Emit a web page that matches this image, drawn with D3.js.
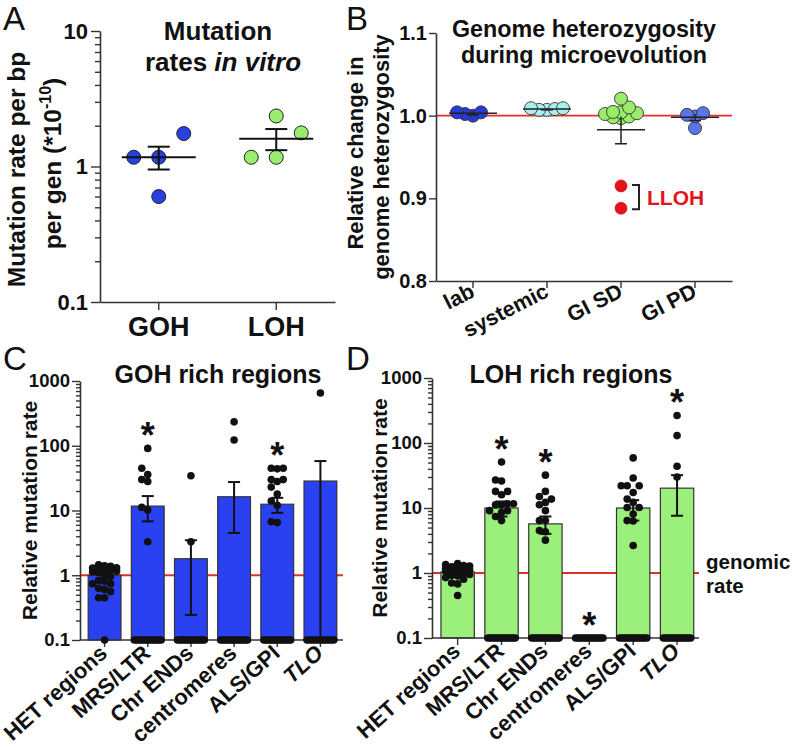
<!DOCTYPE html>
<html><head><meta charset="utf-8">
<script src="https://cdn.jsdelivr.net/npm/d3@7"></script>
<style>body{margin:0;background:#fff} svg{display:block}</style>
</head><body><svg id="c" width="796" height="750"></svg>
<script>
// ================= DATA =================
// Panel A – mutation rates in vitro (x 1e-10 per bp per generation)
const aCategories = ["GOH", "LOH"];
const aGOH = [0.6, 1.17, 1.17, 1.75];
const aLOH = [1.17, 1.17, 1.77, 2.36];
const aMean = [1.17, 1.6];
const aErrLow = [0.95, 1.32];
const aErrHigh = [1.4, 1.89];
const aTicks = [0.1, 1, 10];
const aTickLabels = ["0.1", "1", "10"];

// Panel B – relative change in genome heterozygosity
const bCategories = ["lab", "systemic", "GI SD", "GI PD"];
const bLab = [1.004, 1.000, 1.004, 1.002];
const bSystemic = [1.009, 1.007, 1.008, 1.009, 1.007];
const bGISD = [1.0205, 1.010, 1.0045, 1.003, 1.002, 0.998, 0.999, 1.004, 0.997];
const bGIPD = [1.001, 0.999, 1.003, 0.985];
const bLLOH = [0.915, 0.888];
const bMean = [1.003, 1.008, 0.983, 0.998];
const bErrLow = [1.001, 1.007, 0.966, 0.994];
const bErrHigh = [1.005, 1.009, 0.999, 1.002];
const bTicks = [0.8, 0.9, 1.0, 1.1];
const bTickLabels = ["0.8", "0.9", "1.0", "1.1"];

// Panels C & D – relative mutation rate per region type
const regionCategories = ["HET regions", "MRS/LTR", "Chr ENDs", "centromeres", "ALS/GPI", "TLO"];
const regionTicks = [0.1, 1, 10, 100, 1000];
const regionTickLabels = ["0.1", "1", "10", "100", "1000"];

// C: GOH rich regions
const cHET = [1.45, 1.4, 1.37, 1.3, 1.29, 1.25, 1.21, 1.2, 1.15, 1.12, 1.1, 1.05, 0.96, 0.83, 0.8, 0.74, 0.74, 0.63, 0.6, 0.56, 0.45, 0.45];
const cMRS = [91, 45, 36, 30, 28, 11.2, 10.2, 3.3];
const cChr = [34.5, 3.3];
const cCen = [234, 123];
const cALS = [45, 44, 45, 30, 28, 30, 23, 18, 14, 12, 6.7, 6.5];
const cTLO = [652];
const cZeroCounts = [1, 14, 14, 14, 14, 12];
const cBar = [1.0, 11.7, 1.8, 16.3, 12.5, 28.5];
const cErrLow = [0.92, 6.8, 0.244, 4.5, 9.2, 0.1];
const cErrHigh = [1.1, 16.7, 3.47, 27.5, 15.7, 58];
const cStars = ["MRS/LTR", "ALS/GPI"];

// D: LOH rich regions
const dHET = [1.4, 1.35, 1.3, 1.28, 1.25, 1.2, 1.18, 1.15, 1.12, 1.1, 1.06, 1.05, 1.0, 0.95, 0.92, 0.9, 0.85, 0.8, 0.7, 0.68, 0.45];
const dMRS = [51, 27, 26, 18, 18, 16, 11.6, 11.6, 11.2, 11.2, 9.1, 9.1, 8.5, 7.4, 6.4];
const dChr = [32, 18, 15, 13.7, 12.2, 11.2, 9.1, 6.4, 6.4, 4.5, 4.3, 3.2];
const dCen = [];
const dALS = [59, 29, 22, 22, 22, 17.3, 13.7, 12.2, 10.2, 10.2, 8.1, 6.4, 6.3, 2.65];
const dTLO = [265, 130, 44, 30];
const dZeroCounts = [0, 14, 14, 14, 14, 14];
const dBar = [1.04, 10.0, 5.7, 0.1, 10.0, 20.2];
const dErrLow = [0.95, 7.4, 4.0, null, 6.4, 7.6];
const dErrHigh = [1.12, 12.6, 7.4, null, 13.2, 32];
const dStars = ["MRS/LTR", "Chr ENDs", "centromeres", "TLO"];

// ================= DRAWING =================
const FONT = '"Liberation Sans", Arial, Helvetica, sans-serif';
const AX = "#333";
const RED = "#e03028";
const svg = d3.select("#c");

function styleAxis(g, fs) {
  g.attr("font-family", FONT).attr("font-size", fs).attr("font-weight", "bold");
  g.selectAll(".domain").attr("stroke", AX).attr("stroke-width", 1.6);
  g.selectAll(".tick line").attr("stroke", AX).attr("stroke-width", 1.4);
  g.selectAll(".tick text").attr("fill", "#111");
}
function minorLog(lo, hi) {
  const out = [];
  for (let b = lo; b < hi; b *= 10) for (let k = 2; k <= 9; k++) out.push(b * k);
  return out;
}
// simple column beeswarm (ascending values, columns 0,-1,+1,-2,+2 ...)
function swarm(vals, y, cx, step, maxHalf, minDy) {
  const pts = vals.map(v => ({ v, py: y(v) })).sort((a, b) => b.py - a.py);
  const K = Math.floor(maxHalf / step + 1e-6);
  const cols = [0]; for (let k = 1; k <= K; k++) cols.push(-k, k);
  const placed = [];
  pts.forEach(p => {
    let best = 0, bestGap = -1;
    for (const c of cols) {
      let gap = Infinity;
      placed.forEach(q => { if (q.c === c) gap = Math.min(gap, Math.abs(q.py - p.py)); });
      if (gap >= minDy) { best = c; bestGap = gap; break; }
      if (gap > bestGap) { bestGap = gap; best = c; }
    }
    p.c = best; p.px = cx + best * step; placed.push(p);
  });
  return placed;
}
function label(x, y, txt, fs, opts = {}) {
  const t = svg.append("text").attr("x", x).attr("y", y).attr("font-family", FONT)
    .attr("font-size", fs).attr("font-weight", opts.weight || "bold").attr("fill", opts.fill || "#111")
    .attr("text-anchor", opts.anchor || "middle");
  if (opts.transform) t.attr("transform", opts.transform);
  if (opts.italic) t.attr("font-style", "italic");
  t.text(txt);
  return t;
}

// ---------- Panel letters ----------
label(3, 30, "A", 33, { weight: "normal", anchor: "start" });
label(346, 30, "B", 33, { weight: "normal", anchor: "start" });
label(3, 370, "C", 33, { weight: "normal", anchor: "start" });
label(346, 370, "D", 33, { weight: "normal", anchor: "start" });

// ---------- Panel A ----------
(function () {
  const L = 100, R = 335, T = 31, B = 302;
  const x = d3.scaleBand().domain(aCategories).range([L, R]);
  const y = d3.scaleLog().domain([0.1, 10]).range([B, T]);
  const g = svg.append("g");
  const ya = g.append("g").attr("transform", `translate(${L},0)`)
    .call(d3.axisLeft(y).tickValues(aTicks).tickFormat((d, i) => aTickLabels[i]).tickSize(9).tickSizeOuter(0).tickPadding(3));
  styleAxis(ya, 22);
  const ym = g.append("g").attr("transform", `translate(${L},0)`)
    .call(d3.axisLeft(y).tickValues(minorLog(0.1, 10)).tickFormat("").tickSize(5).tickSizeOuter(0));
  styleAxis(ym, 10); ym.select(".domain").remove();
  const xa = g.append("g").attr("transform", `translate(0,${B})`)
    .call(d3.axisBottom(x).tickSize(8).tickSizeOuter(0).tickPadding(7));
  styleAxis(xa, 27);

  const colors = ["#2840e0", "#98ee6e"];
  [aGOH, aLOH].forEach((vals, i) => {
    const cx = x(aCategories[i]) + x.bandwidth() / 2;
    const pts = swarm(vals, y, cx, 25, 25, 25);
    g.selectAll(null).data(pts).join("circle")
      .attr("cx", d => d.px).attr("cy", d => d.py).attr("r", 7)
      .attr("fill", colors[i]).attr("stroke", "#222").attr("stroke-width", 1);
    g.append("line").attr("x1", cx - 37).attr("x2", cx + 37).attr("y1", y(aMean[i])).attr("y2", y(aMean[i]))
      .attr("stroke", "#111").attr("stroke-width", 2);
    g.append("line").attr("x1", cx).attr("x2", cx).attr("y1", y(aErrLow[i])).attr("y2", y(aErrHigh[i]))
      .attr("stroke", "#111").attr("stroke-width", 2);
    [aErrLow[i], aErrHigh[i]].forEach(v => g.append("line").attr("x1", cx - 11).attr("x2", cx + 11)
      .attr("y1", y(v)).attr("y2", y(v)).attr("stroke", "#111").attr("stroke-width", 2));
  });
  label(218, 39.5, "Mutation", 26);
  const t2 = svg.append("text").attr("x", 223).attr("y", 70.5).attr("font-family", FONT).attr("font-size", 26)
    .attr("font-weight", "bold").attr("text-anchor", "middle").attr("fill", "#111");
  t2.append("tspan").text("rates ");
  t2.append("tspan").attr("font-style", "italic").text("in vitro");
  const cy = (T + B) / 2;
  label(0, 0, "Mutation rate per bp", 24.5, { transform: `translate(25,${cy + 3}) rotate(-90)` });
  const yl = svg.append("text").attr("transform", `translate(61,${cy - 3}) rotate(-90)`).attr("font-family", FONT)
    .attr("font-size", 24.5).attr("font-weight", "bold").attr("text-anchor", "middle").attr("fill", "#111");
  yl.append("tspan").text("per gen (*10");
  yl.append("tspan").attr("font-size", 16).attr("dy", -10).text("-10");
  yl.append("tspan").attr("dy", 10).text(")");
})();

// ---------- Panel B ----------
(function () {
  const L = 436, R = 732, T = 33, B = 281;
  const x = d3.scaleBand().domain(bCategories).range([L, R]);
  const y = d3.scaleLinear().domain([0.8, 1.1]).range([B, T]);
  const g = svg.append("g");
  g.append("line").attr("x1", L).attr("x2", R).attr("y1", y(1)).attr("y2", y(1)).attr("stroke", RED).attr("stroke-width", 1.8);
  const ya = g.append("g").attr("transform", `translate(${L},0)`)
    .call(d3.axisLeft(y).tickValues(bTicks).tickFormat((d, i) => bTickLabels[i]).tickSize(7).tickSizeOuter(0).tickPadding(2));
  styleAxis(ya, 20);
  const xa = g.append("g").attr("transform", `translate(0,${B})`)
    .call(d3.axisBottom(x).tickSize(7).tickSizeOuter(0).tickFormat(""));
  styleAxis(xa, 10);
  bCategories.forEach(c => {
    const cx = x(c) + x.bandwidth() / 2;
    label(0, 0, c, 21.5, { anchor: "end", transform: `translate(${cx + 3},${B + 15}) rotate(-27)` });
  });
  const groups = [bLab, bSystemic, bGISD, bGIPD];
  const colors = ["#2639d9", "#a8eff0", "#98ec68", "#5c74ea"];
  groups.forEach((vals, i) => {
    const cx = x(bCategories[i]) + x.bandwidth() / 2;
    const pts = swarm(vals, y, cx, 8, 16, 10);
    g.selectAll(null).data(pts).join("circle")
      .attr("cx", d => d.px).attr("cy", d => d.py).attr("r", 6.5)
      .attr("fill", colors[i]).attr("stroke", "#333").attr("stroke-width", 0.9);
  });
  // LLOH points (GI SD)
  const cxSD = x("GI SD") + x.bandwidth() / 2;
  g.selectAll(null).data(bLLOH).join("circle").attr("cx", cxSD).attr("cy", d => y(d)).attr("r", 6)
    .attr("fill", "#e3141b").attr("stroke", "#b00").attr("stroke-width", 0.6);
  groups.forEach((vals, i) => {
    const cx = x(bCategories[i]) + x.bandwidth() / 2;
    g.append("line").attr("x1", cx - 24).attr("x2", cx + 24).attr("y1", y(bMean[i])).attr("y2", y(bMean[i]))
      .attr("stroke", "#222").attr("stroke-width", 1.5);
    g.append("line").attr("x1", cx).attr("x2", cx).attr("y1", y(bErrLow[i])).attr("y2", y(bErrHigh[i]))
      .attr("stroke", "#222").attr("stroke-width", 1.5);
    g.append("line").attr("x1", cx - 6).attr("x2", cx + 6).attr("y1", y(bErrLow[i])).attr("y2", y(bErrLow[i]))
      .attr("stroke", "#222").attr("stroke-width", 1.5);
  });
  const yTop = y(d3.max(bLLOH)), yBot = y(d3.min(bLLOH));
  g.append("path").attr("d", `M${cxSD + 11},${yTop - 1}H${cxSD + 18}V${yBot + 1}H${cxSD + 11}`)
    .attr("fill", "none").attr("stroke", "#222").attr("stroke-width", 2);
  label(cxSD + 26, (yTop + yBot) / 2 + 7.5, "LLOH", 21, { anchor: "start", fill: "#e3141b" });

  label(584, 36.5, "Genome heterozygosity", 23.3);
  label(584, 63, "during microevolution", 23.3);
  const cy = (T + B) / 2;
  label(0, 0, "Relative change in", 22, { transform: `translate(363,${cy - 4}) rotate(-90)` });
  label(0, 0, "genome heterozygosity", 22, { transform: `translate(389,${cy}) rotate(-90)` });
})();

// ---------- Panels C & D ----------
function drawRegions(o) {
  const y = d3.scaleLog().domain([0.1, 1000]).range([o.B, o.T]);
  const x = d3.scaleBand().domain(regionCategories).range(o.band).paddingInner(0.24).paddingOuter(0.12);
  const g = svg.append("g");
  g.append("line").attr("x1", o.L).attr("x2", o.R).attr("y1", y(1)).attr("y2", y(1)).attr("stroke", RED).attr("stroke-width", 1.8);
  const barData = regionCategories.map((c, i) => ({ c, v: o.bar[i], lo: o.lo[i], hi: o.hi[i] }));
  g.selectAll(null).data(barData.filter(d => d.v > 0.1)).join("rect")
    .attr("x", d => x(d.c)).attr("width", x.bandwidth()).attr("y", d => y(d.v)).attr("height", d => y(0.1) - y(d.v))
    .attr("fill", o.fill).attr("stroke", "#333").attr("stroke-width", 1.2);
  // axes
  const ya = g.append("g").attr("transform", `translate(${o.L},0)`)
    .call(d3.axisLeft(y).tickValues(regionTicks).tickFormat((d, i) => regionTickLabels[i]).tickSize(8).tickSizeOuter(0).tickPadding(2));
  styleAxis(ya, 18.5);
  const ym = g.append("g").attr("transform", `translate(${o.L},0)`)
    .call(d3.axisLeft(y).tickValues(minorLog(0.1, 1000)).tickFormat("").tickSize(4).tickSizeOuter(0));
  styleAxis(ym, 10); ym.select(".domain").remove();
  g.append("line").attr("x1", o.L).attr("x2", o.R).attr("y1", o.B).attr("y2", o.B).attr("stroke", AX).attr("stroke-width", 1.6);
  regionCategories.forEach((c, i) => {
    const cx = x(c) + x.bandwidth() / 2;
    g.append("line").attr("x1", cx).attr("x2", cx).attr("y1", o.B).attr("y2", o.B + 7).attr("stroke", AX).attr("stroke-width", 1.4);
    label(0, 0, c, 22, { anchor: "end", italic: c === "TLO", transform: `translate(${cx + 4},${o.B + 15}) rotate(-42)` });
  });
  // points
  const half = x.bandwidth() / 2 - 3;
  regionCategories.forEach((c, i) => {
    const cx = x(c) + x.bandwidth() / 2;
    const pts = swarm(o.points[i], y, cx, 6, 12, 7);
    const n = o.zeros[i];
    d3.range(n).forEach(j => pts.push({ px: n === 1 ? cx : cx - half + 2 * half * j / (n - 1), py: y(0.1) }));
    g.selectAll(null).data(pts).join("circle").attr("cx", d => d.px).attr("cy", d => d.py).attr("r", 3.8).attr("fill", "#111");
  });
  // error bars
  barData.filter(d => d.lo != null).forEach(d => {
    const cx = x(d.c) + x.bandwidth() / 2;
    g.append("line").attr("x1", cx).attr("x2", cx).attr("y1", y(d.lo)).attr("y2", y(d.hi)).attr("stroke", "#111").attr("stroke-width", 2);
    [d.lo, d.hi].filter(v => v > 0.1).forEach(v => g.append("line").attr("x1", cx - 6).attr("x2", cx + 6)
      .attr("y1", y(v)).attr("y2", y(v)).attr("stroke", "#111").attr("stroke-width", 2));
  });
  // asterisks
  o.stars.forEach(c => {
    const i = regionCategories.indexOf(c);
    const cx = x(c) + x.bandwidth() / 2;
    const top = d3.min([...o.points[i], 0.1].map(v => y(v)));
    label(cx, top - 20 + 20, "*", 36);
  });
  label(o.titleX, 383, o.title, 25);
  label(0, 0, "Relative mutation rate", 21, { transform: `translate(${o.ylabX},${(o.T + o.B) / 2}) rotate(-90)` });
  return y;
}
drawRegions({
  L: 80, R: 343, T: 381, B: 640, band: [83, 342], fill: "#2a41f2",
  points: [cHET, cMRS, cChr, cCen, cALS, cTLO], zeros: cZeroCounts, bar: cBar, lo: cErrLow, hi: cErrHigh,
  stars: cStars, title: "GOH rich regions", titleX: 218, ylabX: 37
});
const yD = drawRegions({
  L: 432, R: 699, T: 378, B: 638, band: [435.7, 699], fill: "#9af07a",
  points: [dHET, dMRS, dChr, dCen, dALS, dTLO], zeros: dZeroCounts, bar: dBar, lo: dErrLow, hi: dErrHigh,
  stars: dStars, title: "LOH rich regions", titleX: 571, ylabX: 387
});
label(706, yD(1) - 4, "genomic", 20.5, { anchor: "start" });
label(706, yD(1) + 20, "rate", 20.5, { anchor: "start" });
</script></body></html>
